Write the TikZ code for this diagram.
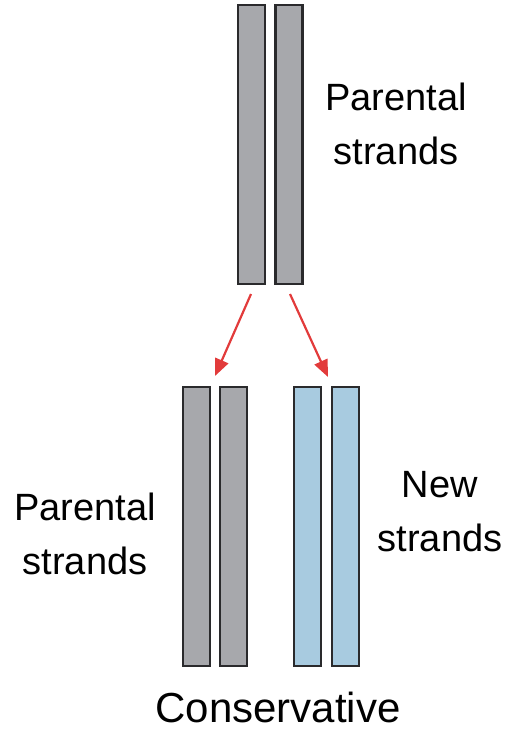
\documentclass[tikz,border=0pt]{standalone}
\usepackage{fontspec}
\setmainfont{Liberation Sans}
\usetikzlibrary{arrows.meta}
\definecolor{strandgray}{HTML}{A7A8AC}
\definecolor{strandblue}{HTML}{A8CBE0}
\definecolor{strandedge}{HTML}{2A2A2C}
\definecolor{arrowred}{HTML}{E23B3B}
\begin{document}
\begin{tikzpicture}[x=1pt,y=-1pt,
  bar/.style={draw=strandedge,line width=2.4pt,minimum width=27pt,minimum height=279pt,inner sep=0pt,outer sep=0pt},
  oldbar/.style={bar,fill=strandgray},
  newbar/.style={bar,fill=strandblue},
  lbl/.style={font=\fontsize{38}{54}\selectfont,align=center,inner sep=0pt,anchor=north},
  redarrow/.style={draw=arrowred,line width=2.2pt,-{Triangle[length=17pt,width=14pt]}}]
\useasboundingbox (0,0) rectangle (516,738);
% top parental strands
\node[oldbar] (p1) at (251.5,144.5) {};
\node[oldbar] (p2) at (289,144.5) {};
% bottom
\node[oldbar] (c1) at (196.5,526.5) {};
\node[oldbar] (c2) at (233.5,526.5) {};
\node[newbar] (n1) at (307.5,526.5) {};
\node[newbar] (n2) at (345.5,526.5) {};
% arrows
\coordinate (a1s) at (251,294);
\coordinate (a1e) at (215,376);
\coordinate (a2s) at (290,294);
\coordinate (a2e) at (328,377);
\draw[redarrow] (a1s) -- (a1e);
\draw[redarrow] (a2s) -- (a2e);
% labels
\node[lbl] (tlbl) at (396,83) {Parental\\strands};
\node[lbl] (blbl) at (85,493) {Parental\\strands};
\node[lbl] (nlbl) at (440,471) {New\\strands};
\node[lbl,font=\fontsize{42}{50}\selectfont] (cons) at (278,692) {Conservative};
\end{tikzpicture}
\end{document}
